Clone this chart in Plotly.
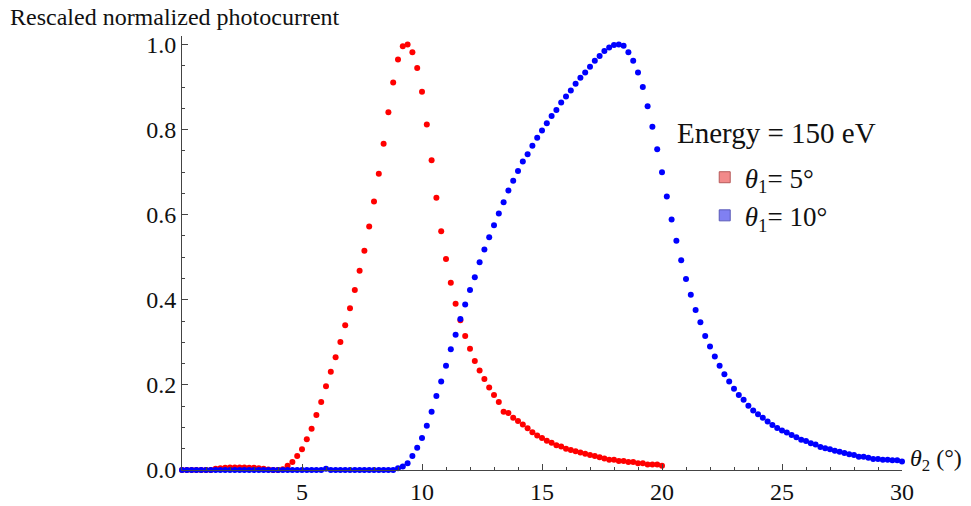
import plotly.graph_objects as go

# theta_2 sampling (degrees) and rescaled normalized photocurrent
theta2_red = [0.0, 0.2, 0.4, 0.6, 0.8, 1.0, 1.2, 1.4, 1.6, 1.8, 2.0, 2.2, 2.4, 2.6, 2.8,
              3.0, 3.2, 3.4, 3.6, 3.8, 4.0, 4.2, 4.4, 4.6, 4.8, 5.0, 5.2, 5.4, 5.6, 5.8,
              6.0, 6.2, 6.4, 6.6, 6.8, 7.0, 7.2, 7.4, 7.6, 7.8, 8.0, 8.2, 8.4, 8.6, 8.8,
              9.0, 9.2, 9.4, 9.6, 9.8, 10.0, 10.2, 10.4, 10.6, 10.8, 11.0, 11.2, 11.4, 11.6, 11.8,
              12.0, 12.2, 12.4, 12.6, 12.8, 13.0, 13.2, 13.4, 13.6, 13.8, 14.0, 14.2, 14.4, 14.6, 14.8,
              15.0, 15.2, 15.4, 15.6, 15.8, 16.0, 16.2, 16.4, 16.6, 16.8, 17.0, 17.2, 17.4, 17.6, 17.8,
              18.0, 18.2, 18.4, 18.6, 18.8, 19.0, 19.2, 19.4, 19.6, 19.8, 20.0]
current_theta1_5 = [0.0, 0.0, 0.0, 0.0, 0.0, 0.0, 0.0, 0.003, 0.004, 0.005, 0.006, 0.006, 0.006, 0.006, 0.005,
                    0.005, 0.004, 0.003, 0.001, 0.0, 0.0, 0.002, 0.010, 0.019, 0.033, 0.049, 0.072, 0.097, 0.129, 0.160,
                    0.197, 0.231, 0.265, 0.301, 0.340, 0.380, 0.423, 0.468, 0.515, 0.572, 0.631, 0.696, 0.767, 0.841, 0.911,
                    0.965, 0.996, 1.000, 0.982, 0.945, 0.889, 0.812, 0.728, 0.640, 0.561, 0.496, 0.440, 0.391, 0.352, 0.315,
                    0.285, 0.256, 0.234, 0.214, 0.194, 0.176, 0.160, 0.137, 0.134, 0.123, 0.115, 0.107, 0.098, 0.089, 0.081,
                    0.075, 0.069, 0.064, 0.058, 0.055, 0.050, 0.047, 0.044, 0.041, 0.038, 0.035, 0.033, 0.030, 0.027, 0.024,
                    0.024, 0.021, 0.021, 0.019, 0.019, 0.016, 0.016, 0.013, 0.013, 0.013, 0.010]

theta2_blue = [0.0, 0.2, 0.4, 0.6, 0.8, 1.0, 1.2, 1.4, 1.6, 1.8, 2.0, 2.2, 2.4, 2.6, 2.8,
               3.0, 3.2, 3.4, 3.6, 3.8, 4.0, 4.2, 4.4, 4.6, 4.8, 5.0, 5.2, 5.4, 5.6, 5.8,
               6.0, 6.2, 6.4, 6.6, 6.8, 7.0, 7.2, 7.4, 7.6, 7.8, 8.0, 8.2, 8.4, 8.6, 8.8,
               9.0, 9.2, 9.4, 9.6, 9.8, 10.0, 10.2, 10.4, 10.6, 10.8, 11.0, 11.2, 11.4, 11.6, 11.8,
               12.0, 12.2, 12.4, 12.6, 12.8, 13.0, 13.2, 13.4, 13.6, 13.8, 14.0, 14.2, 14.4, 14.6, 14.8,
               15.0, 15.2, 15.4, 15.6, 15.8, 16.0, 16.2, 16.4, 16.6, 16.8, 17.0, 17.2, 17.4, 17.6, 17.8,
               18.0, 18.2, 18.4, 18.6, 18.8, 19.0, 19.2, 19.4, 19.6, 19.8, 20.0, 20.2, 20.4, 20.6, 20.8,
               21.0, 21.2, 21.4, 21.6, 21.8, 22.0, 22.2, 22.4, 22.6, 22.8, 23.0, 23.2, 23.4, 23.6, 23.8,
               24.0, 24.2, 24.4, 24.6, 24.8, 25.0, 25.2, 25.4, 25.6, 25.8, 26.0, 26.2, 26.4, 26.6, 26.8,
               27.0, 27.2, 27.4, 27.6, 27.8, 28.0, 28.2, 28.4, 28.6, 28.8, 29.0, 29.2, 29.4, 29.6, 29.8,
               30.0]
current_theta1_10 = [0.0, 0.0, 0.0, 0.0, 0.0, 0.0, 0.0, 0.0, 0.0, 0.0, 0.0, 0.0, 0.0, 0.0, 0.0,
                     0.0, 0.0, 0.0, 0.0, 0.0, 0.0, 0.0, 0.0, 0.0, 0.0, 0.0, 0.0, 0.0, 0.0, 0.0,
                     0.003, 0.0, 0.0, 0.0, 0.0, 0.0, 0.0, 0.0, 0.0, 0.0, 0.0, 0.0, 0.0, 0.0, 0.0,
                     0.004, 0.008, 0.016, 0.033, 0.052, 0.075, 0.104, 0.137, 0.174, 0.208, 0.245, 0.284, 0.318, 0.355, 0.389,
                     0.423, 0.453, 0.488, 0.518, 0.547, 0.575, 0.603, 0.629, 0.657, 0.680, 0.703, 0.725, 0.742, 0.762, 0.781,
                     0.798, 0.815, 0.832, 0.846, 0.864, 0.878, 0.892, 0.908, 0.922, 0.934, 0.948, 0.962, 0.973, 0.985, 0.993,
                     0.999, 1.000, 0.997, 0.982, 0.962, 0.934, 0.900, 0.855, 0.807, 0.754, 0.700, 0.643, 0.589, 0.539, 0.493,
                     0.449, 0.412, 0.376, 0.347, 0.315, 0.290, 0.267, 0.245, 0.225, 0.208, 0.191, 0.176, 0.165, 0.151, 0.140,
                     0.131, 0.123, 0.114, 0.106, 0.099, 0.093, 0.088, 0.082, 0.077, 0.071, 0.068, 0.063, 0.060, 0.054, 0.051,
                     0.049, 0.045, 0.043, 0.040, 0.037, 0.035, 0.031, 0.031, 0.029, 0.026, 0.026, 0.024, 0.024, 0.023, 0.023,
                     0.020]

x_ticks = [5, 10, 15, 20, 25, 30]
y_ticks = [0.0, 0.2, 0.4, 0.6, 0.8, 1.0]
legend_title = "Energy = 150 eV"
series_names = ["<i>θ</i><sub>1</sub>= 5°", "<i>θ</i><sub>1</sub>= 10°"]

FONT = "Liberation Serif, Times New Roman, serif"
AX = "#444444"
TXT = "#111111"

fig = go.Figure()
fig.add_trace(go.Scatter(x=theta2_red, y=current_theta1_5, mode="markers",
                         marker=dict(color="#ff0000", size=6), showlegend=False, cliponaxis=False))
fig.add_trace(go.Scatter(x=theta2_blue, y=current_theta1_10, mode="markers",
                         marker=dict(color="#0000ff", size=6), showlegend=False, cliponaxis=False))
# legend entries (square swatches)
fig.add_trace(go.Scatter(x=[None], y=[None], mode="markers", name=series_names[0],
                         marker=dict(symbol="square", size=11, color="#f28a8a",
                                     line=dict(color="#b85a5a", width=1))))
fig.add_trace(go.Scatter(x=[None], y=[None], mode="markers", name=series_names[1],
                         marker=dict(symbol="square", size=11, color="#8080f2",
                                     line=dict(color="#5a5ab8", width=1))))

fig.update_layout(
    width=971, height=506,
    margin=dict(l=182, r=69, t=36, b=36, autoexpand=False),
    plot_bgcolor="white", paper_bgcolor="white",
    font=dict(family=FONT, size=24, color=TXT),
    xaxis=dict(range=[0, 30], tickvals=x_ticks, ticks="inside", ticklen=6, tickcolor=AX,
               showline=True, linecolor=AX, linewidth=1, showgrid=False, zeroline=False,
               automargin=False,
               minor=dict(ticks="inside", dtick=1, ticklen=3, tickcolor=AX),
               tickfont=dict(size=24, family=FONT, color=TXT)),
    yaxis=dict(range=[0, 1.02], tickvals=y_ticks, tickformat=".1f", ticks="inside", ticklen=6,
               tickcolor=AX, showline=True, linecolor=AX, linewidth=1, showgrid=False, zeroline=False,
               automargin=False,
               minor=dict(ticks="inside", dtick=0.05, ticklen=3, tickcolor=AX),
               tickfont=dict(size=24, family=FONT, color=TXT)),
    legend=dict(x=0.726, y=0.73, xanchor="left", yanchor="top", bgcolor="rgba(0,0,0,0)",
                font=dict(size=27, family=FONT, color=TXT)),
)

fig.add_annotation(text=legend_title, xref="paper", yref="paper",
                   x=0.6847, y=0.7765, xanchor="left", yanchor="middle", showarrow=False,
                   font=dict(size=29, family=FONT, color=TXT))
fig.add_annotation(text="Rescaled normalized photocurrent", xref="paper", yref="paper",
                   x=-0.2417, y=1.044, xanchor="left", yanchor="middle", showarrow=False,
                   font=dict(size=24, family=FONT, color=TXT))
fig.add_annotation(text="<i>θ</i><sub>2</sub> (°)", xref="paper", yref="y",
                   x=1, y=0, xanchor="left", yanchor="middle", yshift=10, xshift=6, showarrow=False,
                   font=dict(size=24, family=FONT, color=TXT))

fig.write_html("out.html")
